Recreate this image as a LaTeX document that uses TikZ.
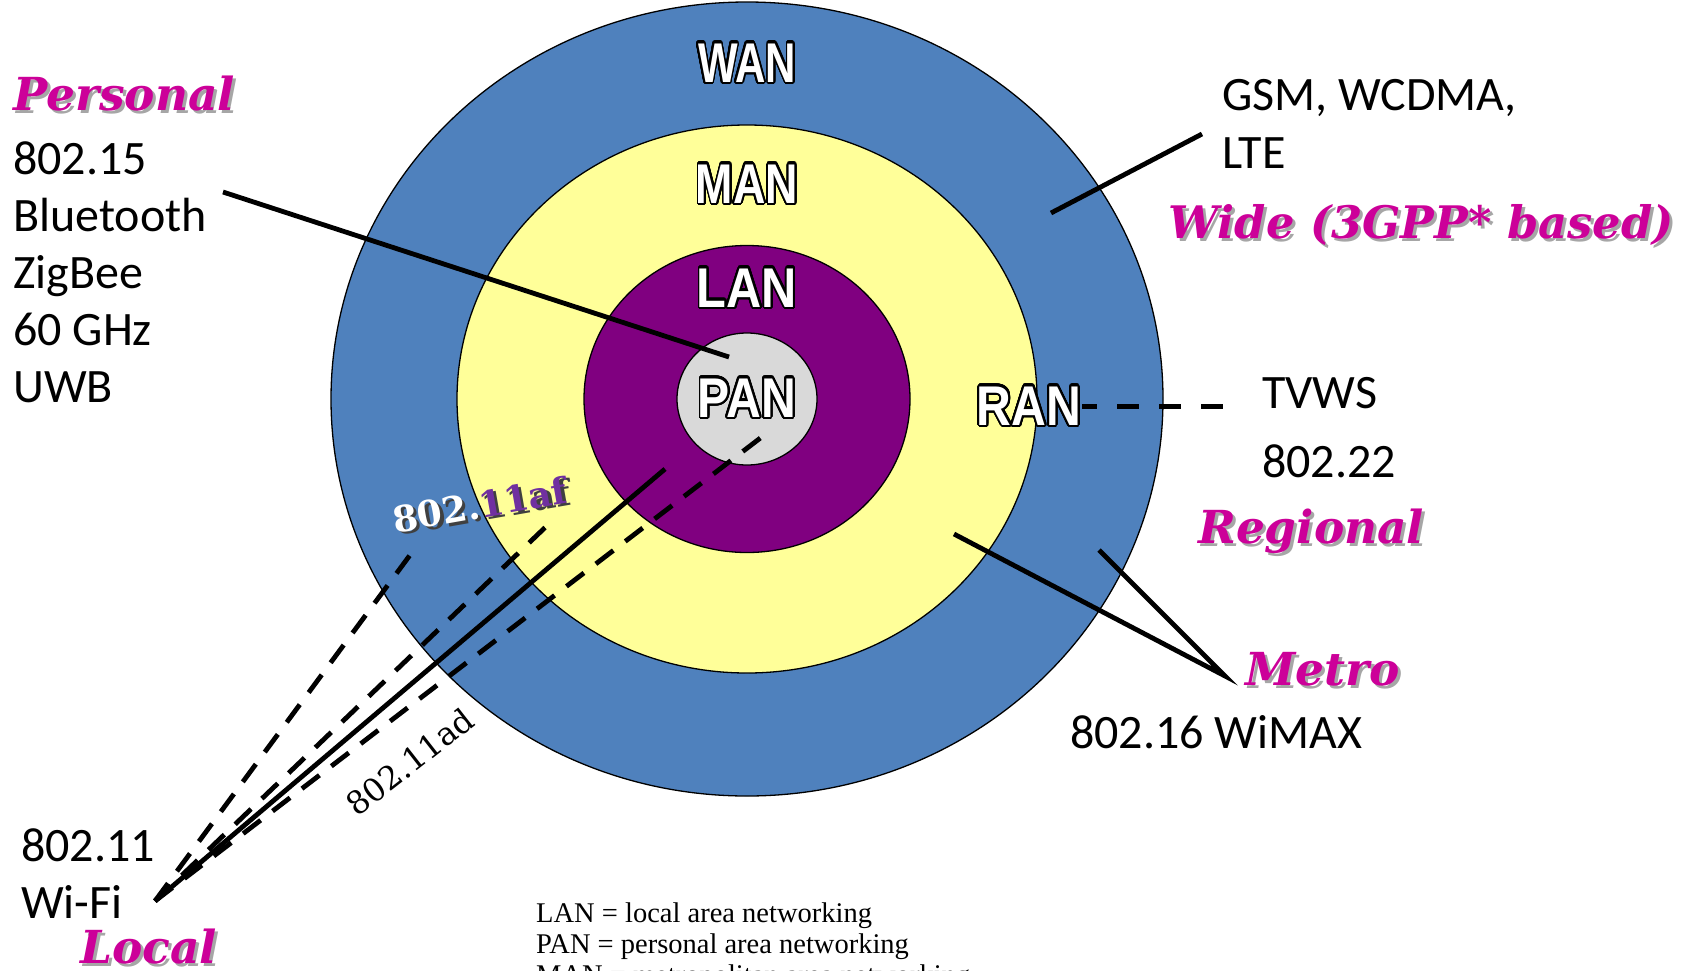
\documentclass[tikz,border=0pt]{standalone}
\usepackage{fontspec}
\usepackage{graphicx}
\usepackage[copies]{contour}
\setmainfont{Carlito}
\newfontfamily\catfont{DejaVu Serif}
\newfontfamily\netfont{Liberation Sans}
\newfontfamily\legfont{Liberation Serif}
\usetikzlibrary{shapes.geometric}
\definecolor{wanblue}{HTML}{4F81BD}
\definecolor{manyellow}{HTML}{FFFF99}
\definecolor{lanpurple}{HTML}{800080}
\definecolor{pangray}{HTML}{D9D9D9}
\definecolor{catmagenta}{HTML}{CC0099}
\definecolor{afpurple}{HTML}{7030A0}
\definecolor{shadowgray}{HTML}{A6A6A6}
\definecolor{darkshadow}{HTML}{404040}
\contourlength{2.2pt}
\contournumber{32}
\newcommand\shadowed[1]{\leavevmode\rlap{\kern3pt\raisebox{-3pt}{\textcolor{shadowgray}{#1}}}#1}
\newcommand\outlined[2]{\scalebox{#1}[1]{\textcolor{white}{\contour{black}{#2}}}}
\begin{document}
\begin{tikzpicture}[x=1pt,y=-1pt,
  ring/.style={ellipse, draw=black, line width=1.3pt, inner sep=0pt},
  std/.style={font=\fontsize{48}{52}\selectfont, inner sep=0pt, anchor=base west},
  cat/.style={font=\catfont\bfseries\itshape\fontsize{45.5}{50}\selectfont, text=catmagenta, inner sep=0pt, anchor=base west},
  net/.style={font=\netfont\bfseries\fontsize{56}{60}\selectfont, inner sep=0pt, anchor=base},
  leg/.style={font=\legfont\fontsize{28.5}{32}\selectfont, inner sep=0pt, anchor=base west},
  conn/.style={line width=4.8pt},
  dconn/.style={line width=4.8pt, dash pattern=on 22pt off 15pt}]
\clip (0,0) rectangle (1681,970);
\fill[white] (0,0) rectangle (1681,970);
\coordinate (c) at (747,399);
% rings
\node[ring, fill=wanblue, minimum width=832pt, minimum height=794pt] (wan) at (c) {};
\node[ring, fill=manyellow, minimum width=580pt, minimum height=548pt] (man) at (c) {};
\node[ring, fill=lanpurple, minimum width=326pt, minimum height=307pt] (lan) at (c) {};
\node[ring, fill=pangray, minimum width=140pt, minimum height=132pt] (pan) at (c) {};
% left texts
\node[cat] (personal) at (13,110) {\shadowed{Personal}};
\node[std] (t1) at (13,174) {802.15};
\node[std] (t2) at (13,231) {Bluetooth};
\node[std] (t3) at (13,288) {ZigBee};
\node[std] (t4) at (13,345) {60 GHz};
\node[std] (t5) at (13,402) {UWB};
% right texts
\node[std] (gsm) at (1222,110) {GSM, WCDMA,};
\node[std] (lte) at (1222,168) {LTE};
\node[cat, font=\catfont\bfseries\itshape\fontsize{44.8}{50}\selectfont] (wide) at (1168,238) {\shadowed{Wide (3GPP* based)}};
\node[std] (tvws) at (1262,408) {TVWS};
\node[std] (r22) at (1262,477) {802.22};
\node[cat] (regional) at (1198,543) {\shadowed{Regional}};
\node[cat] (metro) at (1245,685) {\shadowed{Metro}};
\node[std] (wimax) at (1070,748) {802.16 WiMAX};
% bottom-left texts
\node[std] (t11) at (21,861) {802.11};
\node[std] (wifi) at (21,918) {Wi-Fi};
\node[cat] (local) at (80,963) {\shadowed{Local}};
% legend
\node[leg] (lg1) at (536,922) {LAN = local area networking};
\node[leg] (lg2) at (536,953) {PAN = personal area networking};
\node[leg] (lg3) at (536,984) {MAN = metropolitan area networking};
% connectors
\coordinate (pa) at (223,192);
\coordinate (pb) at (729,357);
\draw[conn] (pa) -- (pb);
\coordinate (ga) at (1051,213);
\coordinate (gb) at (1202,134);
\draw[conn] (ga) -- (gb);
\coordinate (ra) at (1082,406);
\coordinate (rb) at (1226,406);
\draw[line width=5pt, dash pattern=on 22pt off 20pt, dash phase=7pt] (ra) -- (rb);
\coordinate (ma) at (1225,676);
\coordinate (mb) at (954,534);
\coordinate (mc) at (1099,550);
\draw[conn] (mb) -- (ma) -- (mc);
\coordinate (la) at (155,901);
\coordinate (lb) at (665,469);
\coordinate (lc) at (763,436);
\coordinate (ld) at (555,518);
\coordinate (le) at (413,551);
\draw[conn] (la) -- (lb);
\draw[dconn] (la) -- (lc);
\draw[dconn] (la) -- (ld);
\draw[dconn] (la) -- (le);
% ring labels
\node[net] (lwan) at (747,82) {\outlined{0.75}{WAN}};
\node[net] (lman) at (747,203) {\outlined{0.8}{MAN}};
\node[net] (llan) at (747,307) {\outlined{0.87}{LAN}};
\node[net] (lpan) at (747,417) {\outlined{0.86}{PAN}};
\node[net] (lran) at (1029,425) {\outlined{0.86}{RAN}};
% rotated labels
\node[font=\catfont\bfseries\fontsize{36}{40}\selectfont, inner sep=0pt, anchor=base, rotate=10] (af) at (482,518)
  {\rlap{\kern3pt\raisebox{-3pt}{\textcolor{darkshadow}{802.11af}}}\textcolor{white}{802.}\textcolor{afpurple}{11af}};
\node[font=\catfont\fontsize{32}{36}\selectfont, inner sep=0pt, anchor=base, rotate=38] (ad) at (417,771) {802.11ad};
\end{tikzpicture}
\end{document}
